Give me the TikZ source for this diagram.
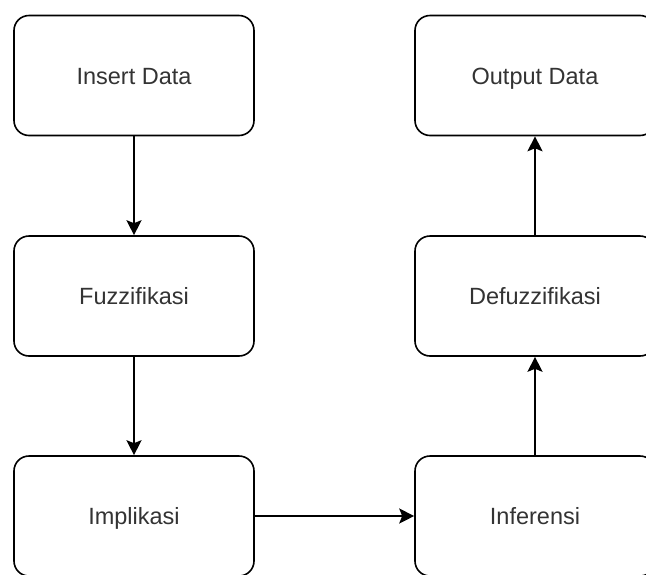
\documentclass[tikz,border=0pt]{standalone}
\usepackage{fontspec}
\setmainfont{Liberation Sans}
\usetikzlibrary{arrows.meta}
\definecolor{txt}{HTML}{333333}
\tikzset{
  stepbox/.style={draw=black, line width=1.6pt, rounded corners=15pt, minimum width=240pt, minimum height=120pt, inner sep=0pt, text=txt, font=\fontsize{23.5}{28}\selectfont, text height=20pt, text depth=3pt},
  conn/.style={line width=1.6pt, -{Stealth[length=15pt, width=15pt, inset=3pt]}}
}
\begin{document}
\begin{tikzpicture}[x=1pt, y=-1pt]
\useasboundingbox (0,0) rectangle (646,574);
\clip (0,0) rectangle (646,574);
\node[stepbox] (insert) at (134,75.5) {Insert Data};
\node[stepbox] (fuzz) at (134,296) {Fuzzifikasi};
\node[stepbox] (impl) at (134,516) {Implikasi};
\node[stepbox] (infer) at (535,516) {Inferensi};
\node[stepbox] (defuzz) at (535,296) {Defuzzifikasi};
\node[stepbox] (output) at (535,75.5) {Output Data};
\draw[conn] (insert) -- (fuzz);
\draw[conn] (fuzz) -- (impl);
\draw[conn] (impl) -- (infer);
\draw[conn] (infer) -- (defuzz);
\draw[conn] (defuzz) -- (output);
\end{tikzpicture}
\end{document}
